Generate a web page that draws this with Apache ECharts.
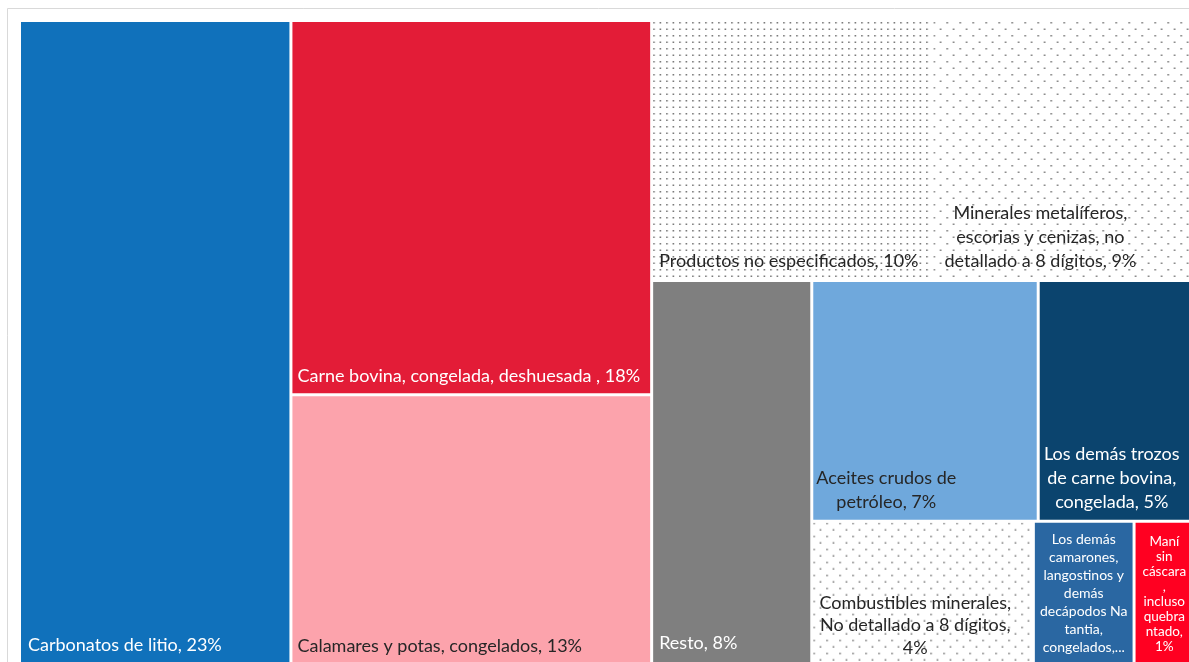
<!DOCTYPE html>
<html>
<head>
<meta charset="utf-8">
<title>Exportaciones - treemap</title>
<script src="https://cdn.jsdelivr.net/npm/echarts@6/dist/echarts.min.js"></script>
<style>
  html, body { margin: 0; padding: 0; background: #fff; }
  #chart { width: 1189px; height: 662px; }
</style>
</head>
<body>
<div id="chart"></div>
<script>
// Labels as printed on the chart (line breaks as in the picture)
const labels = [
  'Carbonatos de litio, 23%',
  'Carne bovina, congelada, deshuesada , 18%',
  'Calamares y potas, congelados, 13%',
  'Productos no especificados, 10%',
  'Minerales metalíferos,\nescorias y cenizas, no\ndetallado a 8 dígitos, 9%',
  'Resto, 8%',
  'Aceites crudos de\npetróleo, 7%',
  'Los demás trozos\nde carne bovina,\ncongelada, 5%',
  'Combustibles minerales,\nNo detallado a 8 dígitos,\n4%',
  'Los demás\ncamarones,\nlangostinos y\ndemás\ndecápodos Na\ntantia,\ncongelados,...',
  'Maní\nsin\ncáscara\n,\nincluso\nquebra\nntado,\n1%'
];

// Share of total exports, % (read from the tile areas)
const shares = [23.1, 17.6, 13.1, 9.5, 8.9, 8.2, 7.1, 4.9, 4.4, 2.0, 1.2];

// ---- styles ----
function dots(tile, pts) {
  const c = document.createElement('canvas');
  c.width = c.height = tile;
  const g = c.getContext('2d');
  g.fillStyle = '#ffffff';
  g.fillRect(0, 0, tile, tile);
  g.fillStyle = '#6e6e6e';
  pts.forEach(([x, y]) => g.fillRect(x, y, 1.5, 1.5));
  return { image: c, repeat: 'repeat' };
}
const denseDots = dots(13, [[0, 0], [6.5, 0], [0, 6.5], [6.5, 6.5]]);
const sparseDots = dots(13, [[0, 0], [6.5, 6.5]]);

const fills = [
  '#1071bb', '#e31c37', '#fca3ac', denseDots, sparseDots, '#7f7f7f',
  '#6fa8dc', '#0b446e', sparseDots, '#2a67a2', '#ff0021'
];

const dark = '#262626';
const light = '#ffffff';
const labelStyles = [
  { position: [7, 613], color: light },
  { position: [5, 344], color: light },
  { position: [5, 240], color: dark },
  { position: [6, 229], color: dark },
  { position: [107, 179], color: dark, align: 'center', lineHeight: 24 },
  { position: [6, 351], color: light },
  { position: [73, 184], color: dark, align: 'center', lineHeight: 24 },
  { position: [72, 160], color: light, align: 'center', lineHeight: 24 },
  { position: [102, 69], color: dark, align: 'center', lineHeight: 22.5 },
  { position: ['50%', 8], color: light, align: 'center', fontSize: 14, lineHeight: 18 },
  { position: ['50%', 12], color: light, align: 'center', fontSize: 13.5, lineHeight: 15 }
];

const leaf = (i) => ({
  name: labels[i],
  value: shares[i],
  itemStyle: { color: fills[i] },
  label: labelStyles[i]
});
const group = (children) => ({
  name: '',
  value: children.reduce((s, c) => s + c.value, 0),
  children
});

// nesting follows the layout of the original tiles
const treeData = [
  leaf(0),
  group([
    group([leaf(1), leaf(2)]),
    group([
      leaf(3), leaf(4), leaf(5),
      group([
        group([leaf(6), leaf(7)]),
        group([leaf(8), leaf(9), leaf(10)])
      ])
    ])
  ])
];

const chart = echarts.init(document.getElementById('chart'));
chart.setOption({
  animation: false,
  backgroundColor: '#ffffff',
  graphic: [
    {
      type: 'rect',
      x: 7.5, y: 8.5,
      shape: { x: 0, y: 0, width: 1200, height: 700 },
      style: { fill: 'none', stroke: '#d9d9d9', lineWidth: 1 },
      silent: true
    },
    {
      type: 'text',
      x: 10, y: 3,
      style: {
        text: 'de 2023.',
        font: 'bold 16px Lato',
        fill: '#808080',
        verticalAlign: 'bottom'
      },
      silent: true
    }
  ],
  series: [{
    type: 'treemap',
    left: 21,
    top: 22,
    width: 1172,
    height: 650,
    roam: false,
    nodeClick: false,
    sort: false,
    squareRatio: 1,
    breadcrumb: { show: false },
    itemStyle: { borderWidth: 0, gapWidth: 3, borderColor: '#ffffff' },
    upperLabel: { show: false },
    label: {
      show: true,
      fontFamily: 'Lato',
      fontSize: 18,
      lineHeight: 20,
      padding: 0,
      overflow: 'none',
      align: 'left',
      verticalAlign: 'top'
    },
    data: treeData
  }]
});
</script>
</body>
</html>
